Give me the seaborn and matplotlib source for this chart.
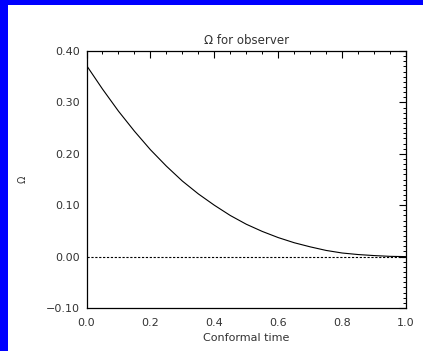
import numpy as np
import pandas as pd
import matplotlib
matplotlib.use("Agg")
import matplotlib.pyplot as plt
from matplotlib.patches import Rectangle
from matplotlib.ticker import MultipleLocator, FuncFormatter
import seaborn as sns

# values
conformal_time = [0.0, 0.05, 0.1, 0.15, 0.2, 0.25, 0.3, 0.35, 0.4, 0.45, 0.5,
                  0.55, 0.6, 0.65, 0.7, 0.75, 0.8, 0.85, 0.9, 0.95, 1.0]
omega = [0.372, 0.326, 0.283, 0.244, 0.208, 0.176, 0.147, 0.122, 0.100, 0.080, 0.063,
         0.049, 0.037, 0.027, 0.019, 0.012, 0.007, 0.004, 0.002, 0.0005, 0.0]
zero_line_t = [0.0, 1.0]
zero_line_v = [0.0, 0.0]

sns.set_style("white")
plt.rcParams['font.family'] = ['DejaVu Sans']

W, H = 423, 351
fig = plt.figure(figsize=(W / 100, H / 100), dpi=100, facecolor='white')

# blue frame on the top and left
fig.patches.append(Rectangle((0, 0), 8 / W, 1, transform=fig.transFigure,
                             facecolor='#0000ff', edgecolor='none', zorder=0))
fig.patches.append(Rectangle((0, 1 - 5 / H), 1, 5 / H, transform=fig.transFigure,
                             facecolor='#0000ff', edgecolor='none', zorder=0))

ax = fig.add_axes([86.5 / W, (H - 308) / H, (406 - 86.5) / W, 257 / H])
ax.set_facecolor('white')

df = pd.DataFrame({'t': conformal_time, 'omega': omega})
sns.lineplot(data=df, x='t', y='omega', ax=ax, color='black', linewidth=0.8)
sns.lineplot(x=zero_line_t, y=zero_line_v, ax=ax, color='black',
             linewidth=0.8, linestyle=(0, (2, 1.5)))

ax.set_xlim(0, 1)
ax.set_ylim(-0.10, 0.40)
ax.xaxis.set_major_locator(MultipleLocator(0.2))
ax.xaxis.set_minor_locator(MultipleLocator(0.05))
ax.yaxis.set_major_locator(MultipleLocator(0.1))
ax.yaxis.set_minor_locator(MultipleLocator(0.01))
ax.xaxis.set_major_formatter(FuncFormatter(lambda v, p: f'{v:.1f}'.replace('-', '\u2212')))
ax.yaxis.set_major_formatter(FuncFormatter(lambda v, p: f'{v:.2f}'.replace('-', '\u2212')))

ax.tick_params(which='both', direction='in', top=True, right=True,
               color='black', labelsize=8, labelcolor='#333333')
ax.tick_params(which='major', length=5, width=0.8)
ax.tick_params(axis='x', which='major', pad=7)
ax.tick_params(axis='y', which='major', pad=5)
ax.tick_params(which='minor', length=2.5, width=0.7)
for s in ax.spines.values():
    s.set_color('black')
    s.set_linewidth(0.9)

ax.set_title('Ω for observer', fontsize=8.5, pad=5, color='#333333')
ax.set_xlabel('Conformal time', fontsize=8, labelpad=4, color='#333333')
ax.set_ylabel('Ω', fontsize=7, labelpad=13, color='#333333')

fig.savefig('out.png', dpi=100, facecolor='white')
